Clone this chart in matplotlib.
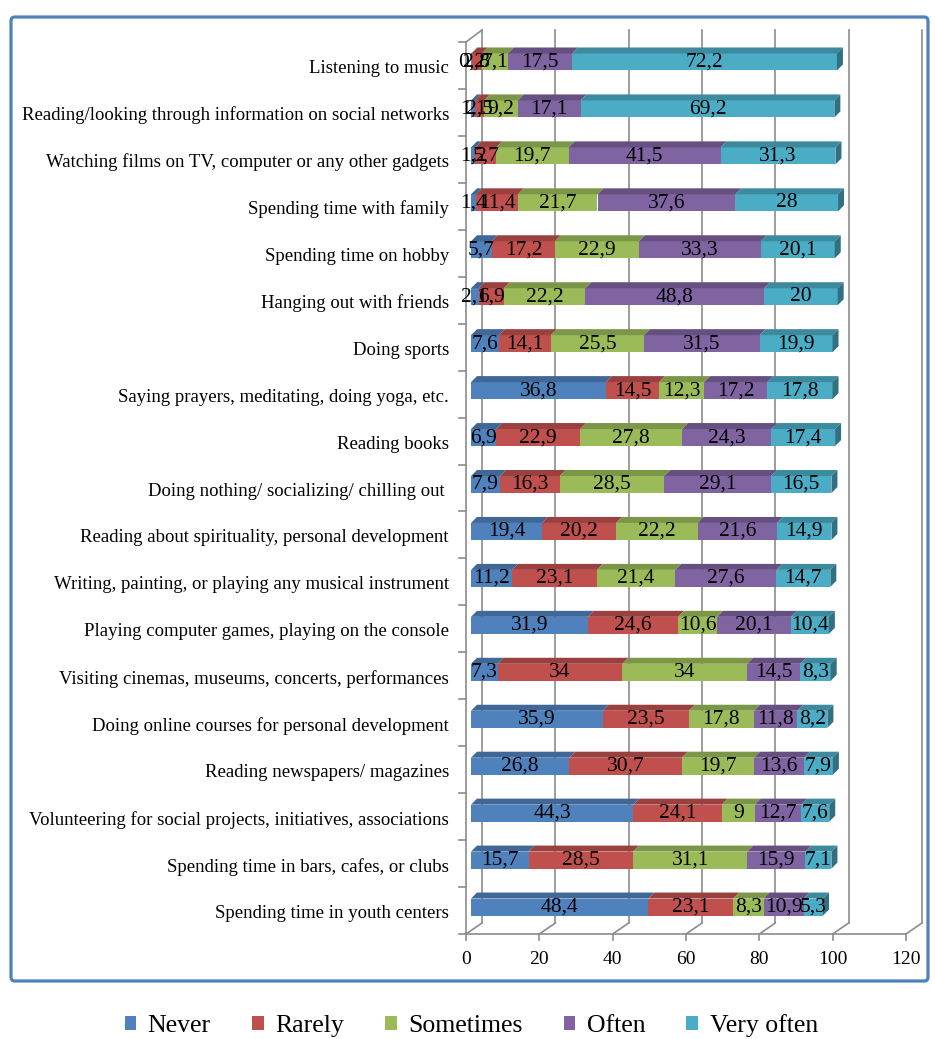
import numpy as np
import matplotlib.pyplot as plt
from matplotlib.patches import Rectangle, Polygon, FancyBboxPatch
from matplotlib.colors import to_rgb

plt.rcParams['font.family'] = ['Liberation Serif', 'DejaVu Serif']

# categories from top to bottom, as in the chart
categories = [
    'Listening to music',
    'Reading/looking through information on social networks',
    'Watching films on TV, computer or any other gadgets',
    'Spending time with family',
    'Spending time on hobby',
    'Hanging out with friends',
    'Doing sports',
    'Saying prayers, meditating, doing yoga, etc.',
    'Reading books',
    'Doing nothing/ socializing/ chilling out ',
    'Reading about spirituality, personal development',
    'Writing, painting, or playing any musical instrument',
    'Playing computer games, playing on the console',
    'Visiting cinemas, museums, concerts, performances',
    'Doing online courses for personal development',
    'Reading newspapers/ magazines',
    'Volunteering for social projects, initiatives, associations',
    'Spending time in bars, cafes, or clubs',
    'Spending time in youth centers',
]
never = [0.2, 1.1, 1.2, 1.4, 5.7, 2.1, 7.6, 36.8, 6.9, 7.9, 19.4, 11.2, 31.9, 7.3, 35.9, 26.8, 44.3, 15.7, 48.4]
rarely = [2.8, 2.5, 5.7, 11.4, 17.2, 6.9, 14.1, 14.5, 22.9, 16.3, 20.2, 23.1, 24.6, 34, 23.5, 30.7, 24.1, 28.5, 23.1]
sometimes = [7.1, 9.2, 19.7, 21.7, 22.9, 22.2, 25.5, 12.3, 27.8, 28.5, 22.2, 21.4, 10.6, 34, 17.8, 19.7, 9, 31.1, 8.3]
often = [17.5, 17.1, 41.5, 37.6, 33.3, 48.8, 31.5, 17.2, 24.3, 29.1, 21.6, 27.6, 20.1, 14.5, 11.8, 13.6, 12.7, 15.9, 10.9]
very_often = [72.2, 69.2, 31.3, 28, 20.1, 20, 19.9, 17.8, 17.4, 16.5, 14.9, 14.7, 10.4, 8.3, 8.2, 7.9, 7.6, 7.1, 5.3]

series_names = ['Never', 'Rarely', 'Sometimes', 'Often', 'Very often']
series = [never, rarely, sometimes, often, very_often]
colors = ['#4F81BD', '#C0504D', '#9BBB59', '#8064A2', '#4BACC6']
xticks = [0, 20, 40, 60, 80, 100, 120]

W, H = 935, 1039
fig = plt.figure(figsize=(W / 100, H / 100), dpi=100)

# front plane of the plot area in pixels
x0px, x1px = 466, 906
ytop_px, ybot_px = 42, 934
ax = fig.add_axes([x0px / W, (H - ybot_px) / H, (x1px - x0px) / W, (ybot_px - ytop_px) / H])
n = len(categories)
ax.set_xlim(0, 120)
ax.set_ylim(-0.5, n - 0.5)
ax.axis('off')

pxx = (x1px - x0px) / 120.0
pxy = (ybot_px - ytop_px) / n


def ddx(p):
    return p / pxx


def ddy(p):
    return p / pxy


grid_c = '#8c8c8c'
glw = 1.2
yb, yt = -0.5, n - 0.5
wx, wy = ddx(16), ddy(11)

# back wall gridlines and floor
for v in xticks:
    ax.plot([v + wx] * 2, [yb + wy, yt + ddy(12)], color=grid_c, lw=glw, clip_on=False)
    ax.plot([v, v + wx], [yb, yb + wy], color=grid_c, lw=glw, clip_on=False)
    ax.plot([v, v], [yb, yb - ddy(6)], color=grid_c, lw=glw, clip_on=False)
    ax.text(v, yb - ddy(25), str(v), ha='center', va='center', fontsize=14)
ax.plot([0, 120], [yb, yb], color=grid_c, lw=glw, clip_on=False)
ax.plot([0, 0], [yb, yt], color=grid_c, lw=glw, clip_on=False)
ax.plot([0, wx], [yt, yt + ddy(12)], color=grid_c, lw=glw, clip_on=False)
for b in np.arange(-0.5, n, 1.0):
    ax.plot([-ddx(7), 0], [b, b], color=grid_c, lw=glw, clip_on=False)


def shade(c, f):
    r, g, b = to_rgb(c)
    return (r * f, g * f, b * f)


# 3D-looking stacked bars
ox, oy = ddx(5), ddy(3.5)
bh = ddy(17)
tx, ty = ddx(6), ddy(6)
for row, cat in enumerate(categories):
    yc = (n - 1 - row) + oy
    bot, top = yc - bh / 2, yc + bh / 2
    left = ox
    for k in range(len(series)):
        w = series[k][row]
        ax.add_patch(Rectangle((left, bot), w, bh, facecolor=colors[k], edgecolor='none', zorder=3))
        ax.add_patch(Polygon([(left, top), (left + w, top), (left + w + tx, top + ty), (left + tx, top + ty)],
                             closed=True, facecolor=shade(colors[k], 0.8), edgecolor='none', zorder=3))
        lab = ('%g' % w).replace('.', ',')
        ax.text(left + w / 2, yc, lab, ha='center', va='center', fontsize=15.5, zorder=5)
        left += w
    ax.add_patch(Polygon([(left, bot), (left, top), (left + tx, top + ty), (left + tx, bot + ty)],
                         closed=True, facecolor=shade(colors[-1], 0.65), edgecolor='none', zorder=4))
    ax.text(-ddx(17), (n - 1 - row) - ddy(3), cat, ha='right', va='center', fontsize=13.5)

# outer border
fig.patches.append(FancyBboxPatch((11 / W, 1 - 981 / H), 917 / W, 964 / H,
                                  boxstyle='round,pad=0,rounding_size=0.004', transform=fig.transFigure,
                                  facecolor='none', edgecolor='#4F81BD', lw=2.3))

handles = [Rectangle((0, 0), 1, 1, facecolor=c, edgecolor='none') for c in colors]
fig.legend(handles, series_names, loc='center', bbox_to_anchor=(0.504, 1 - 1026 / H), ncol=5,
           frameon=False, fontsize=18.5, handlelength=0.45, handleheight=0.45, handletextpad=0.45,
           columnspacing=1.6)

fig.savefig('out.png', dpi=100)
